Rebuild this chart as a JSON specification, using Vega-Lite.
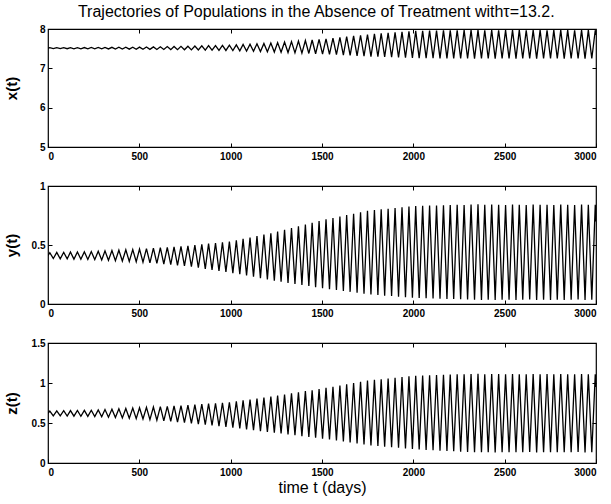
{
"$schema": "https://vega.github.io/schema/vega-lite/v6.json",
"padding": {"left": 3, "top": 4, "right": 2, "bottom": 2},
"title": {"text": "Trajectories of Populations in the Absence of Treatment withτ=13.2.", "font": "Liberation Sans", "fontSize": 16, "fontWeight": "normal", "color": "black", "offset": 3, "anchor": "middle", "dx": 16},
"spacing": 18,
"config": {
  "view": {"stroke": "black", "strokeWidth": 1.2},
  "axis": {"domain": false, "grid": false, "tickSize": -4, "tickColor": "black", "tickWidth": 1, "labelFont": "Liberation Sans", "labelFontSize": 10, "labelFontWeight": "bold", "labelColor": "black", "labelPadding": 8, "labelExpr": "datum.value", "titleFont": "Liberation Sans", "titleFontSize": 15, "titleFontWeight": "bold", "titleColor": "black"},
  "axisLeft": {"labelPadding": 7}
},
"data": {"values": [
{"t":0,"x":7.512,"y":0.41,"z":0.62},
{"t":10,"x":7.525,"y":0.435,"z":0.65},{"t":29,"x":7.5,"y":0.385,"z":0.59},
{"t":48,"x":7.526,"y":0.437,"z":0.652},{"t":67,"x":7.5,"y":0.383,"z":0.588},
{"t":86,"x":7.527,"y":0.438,"z":0.653},{"t":105,"x":7.499,"y":0.382,"z":0.587},
{"t":123,"x":7.527,"y":0.44,"z":0.655},{"t":142,"x":7.498,"y":0.38,"z":0.585},
{"t":161,"x":7.528,"y":0.441,"z":0.656},{"t":180,"x":7.497,"y":0.379,"z":0.584},
{"t":199,"x":7.529,"y":0.443,"z":0.658},{"t":218,"x":7.496,"y":0.377,"z":0.582},
{"t":237,"x":7.53,"y":0.444,"z":0.659},{"t":256,"x":7.495,"y":0.376,"z":0.581},
{"t":275,"x":7.531,"y":0.447,"z":0.663},{"t":294,"x":7.494,"y":0.373,"z":0.577},
{"t":312,"x":7.533,"y":0.45,"z":0.668},{"t":331,"x":7.493,"y":0.37,"z":0.572},
{"t":350,"x":7.534,"y":0.453,"z":0.672},{"t":369,"x":7.491,"y":0.367,"z":0.568},
{"t":388,"x":7.536,"y":0.456,"z":0.677},{"t":407,"x":7.49,"y":0.364,"z":0.563},
{"t":426,"x":7.537,"y":0.459,"z":0.681},{"t":445,"x":7.488,"y":0.361,"z":0.559},
{"t":464,"x":7.539,"y":0.462,"z":0.686},{"t":483,"x":7.486,"y":0.358,"z":0.554},
{"t":501,"x":7.54,"y":0.465,"z":0.69},{"t":520,"x":7.485,"y":0.355,"z":0.55},
{"t":539,"x":7.543,"y":0.469,"z":0.695},{"t":558,"x":7.483,"y":0.349,"z":0.542},
{"t":577,"x":7.546,"y":0.473,"z":0.699},{"t":596,"x":7.48,"y":0.344,"z":0.535},
{"t":615,"x":7.549,"y":0.477,"z":0.704},{"t":634,"x":7.478,"y":0.339,"z":0.527},
{"t":653,"x":7.552,"y":0.48,"z":0.708},{"t":672,"x":7.476,"y":0.334,"z":0.52},
{"t":690,"x":7.555,"y":0.484,"z":0.713},{"t":709,"x":7.474,"y":0.328,"z":0.512},
{"t":728,"x":7.558,"y":0.488,"z":0.717},{"t":747,"x":7.471,"y":0.323,"z":0.505},
{"t":766,"x":7.562,"y":0.492,"z":0.722},{"t":785,"x":7.469,"y":0.316,"z":0.496},
{"t":804,"x":7.567,"y":0.499,"z":0.729},{"t":823,"x":7.466,"y":0.307,"z":0.487},
{"t":842,"x":7.571,"y":0.505,"z":0.735},{"t":861,"x":7.463,"y":0.298,"z":0.478},
{"t":879,"x":7.576,"y":0.511,"z":0.741},{"t":898,"x":7.46,"y":0.289,"z":0.469},
{"t":917,"x":7.58,"y":0.517,"z":0.747},{"t":936,"x":7.457,"y":0.28,"z":0.46},
{"t":955,"x":7.585,"y":0.523,"z":0.753},{"t":974,"x":7.454,"y":0.271,"z":0.451},
{"t":993,"x":7.589,"y":0.529,"z":0.759},{"t":1012,"x":7.451,"y":0.262,"z":0.442},
{"t":1031,"x":7.597,"y":0.54,"z":0.77},{"t":1050,"x":7.445,"y":0.252,"z":0.432},
{"t":1068,"x":7.606,"y":0.552,"z":0.782},{"t":1087,"x":7.439,"y":0.241,"z":0.421},
{"t":1106,"x":7.615,"y":0.564,"z":0.794},{"t":1125,"x":7.433,"y":0.231,"z":0.411},
{"t":1144,"x":7.625,"y":0.576,"z":0.806},{"t":1163,"x":7.427,"y":0.219,"z":0.399},
{"t":1182,"x":7.634,"y":0.588,"z":0.818},{"t":1201,"x":7.421,"y":0.209,"z":0.389},
{"t":1220,"x":7.643,"y":0.6,"z":0.83},{"t":1239,"x":7.415,"y":0.198,"z":0.378},
{"t":1257,"x":7.653,"y":0.613,"z":0.843},{"t":1276,"x":7.408,"y":0.188,"z":0.368},
{"t":1295,"x":7.666,"y":0.628,"z":0.856},{"t":1314,"x":7.401,"y":0.179,"z":0.357},
{"t":1333,"x":7.68,"y":0.643,"z":0.87},{"t":1352,"x":7.394,"y":0.17,"z":0.347},
{"t":1371,"x":7.693,"y":0.658,"z":0.883},{"t":1390,"x":7.386,"y":0.161,"z":0.336},
{"t":1409,"x":7.708,"y":0.674,"z":0.898},{"t":1428,"x":7.378,"y":0.152,"z":0.325},
{"t":1446,"x":7.72,"y":0.688,"z":0.91},{"t":1465,"x":7.371,"y":0.143,"z":0.315},
{"t":1484,"x":7.735,"y":0.704,"z":0.925},{"t":1503,"x":7.363,"y":0.134,"z":0.304},
{"t":1522,"x":7.751,"y":0.717,"z":0.939},{"t":1541,"x":7.355,"y":0.126,"z":0.293},
{"t":1560,"x":7.769,"y":0.729,"z":0.954},{"t":1579,"x":7.346,"y":0.118,"z":0.281},
{"t":1598,"x":7.787,"y":0.741,"z":0.969},{"t":1617,"x":7.337,"y":0.111,"z":0.269},
{"t":1635,"x":7.805,"y":0.753,"z":0.984},{"t":1654,"x":7.328,"y":0.103,"z":0.257},
{"t":1673,"x":7.823,"y":0.765,"z":0.999},{"t":1692,"x":7.319,"y":0.096,"z":0.245},
{"t":1711,"x":7.841,"y":0.777,"z":1.014},{"t":1730,"x":7.31,"y":0.088,"z":0.233},
{"t":1749,"x":7.86,"y":0.79,"z":1.03},{"t":1768,"x":7.3,"y":0.08,"z":0.22},
{"t":1787,"x":7.874,"y":0.796,"z":1.039},{"t":1806,"x":7.294,"y":0.076,"z":0.213},
{"t":1824,"x":7.887,"y":0.802,"z":1.048},{"t":1843,"x":7.288,"y":0.071,"z":0.205},
{"t":1862,"x":7.9,"y":0.808,"z":1.057},{"t":1881,"x":7.282,"y":0.067,"z":0.198},
{"t":1900,"x":7.914,"y":0.814,"z":1.066},{"t":1919,"x":7.276,"y":0.062,"z":0.19},
{"t":1938,"x":7.928,"y":0.82,"z":1.075},{"t":1957,"x":7.27,"y":0.058,"z":0.183},
{"t":1976,"x":7.941,"y":0.826,"z":1.084},{"t":1995,"x":7.264,"y":0.053,"z":0.175},
{"t":2013,"x":7.951,"y":0.831,"z":1.091},{"t":2032,"x":7.26,"y":0.05,"z":0.168},
{"t":2051,"x":7.954,"y":0.832,"z":1.094},{"t":2070,"x":7.258,"y":0.048,"z":0.164},
{"t":2089,"x":7.957,"y":0.834,"z":1.097},{"t":2108,"x":7.256,"y":0.046,"z":0.159},
{"t":2127,"x":7.96,"y":0.835,"z":1.1},{"t":2146,"x":7.255,"y":0.045,"z":0.155},
{"t":2165,"x":7.963,"y":0.837,"z":1.103},{"t":2184,"x":7.253,"y":0.043,"z":0.15},
{"t":2202,"x":7.966,"y":0.838,"z":1.106},{"t":2221,"x":7.252,"y":0.042,"z":0.146},
{"t":2240,"x":7.969,"y":0.84,"z":1.109},{"t":2259,"x":7.25,"y":0.04,"z":0.141},
{"t":2278,"x":7.97,"y":0.838,"z":1.11},{"t":2297,"x":7.25,"y":0.038,"z":0.137},
{"t":2316,"x":7.972,"y":0.842,"z":1.112},{"t":2335,"x":7.248,"y":0.036,"z":0.135},
{"t":2354,"x":7.97,"y":0.845,"z":1.115},{"t":2373,"x":7.249,"y":0.035,"z":0.134},
{"t":2391,"x":7.968,"y":0.84,"z":1.11},{"t":2410,"x":7.25,"y":0.037,"z":0.136},
{"t":2429,"x":7.971,"y":0.843,"z":1.113},{"t":2448,"x":7.248,"y":0.034,"z":0.133},
{"t":2467,"x":7.969,"y":0.841,"z":1.111},{"t":2486,"x":7.25,"y":0.036,"z":0.135},
{"t":2505,"x":7.97,"y":0.839,"z":1.109},{"t":2524,"x":7.249,"y":0.037,"z":0.136},
{"t":2543,"x":7.972,"y":0.842,"z":1.112},{"t":2562,"x":7.248,"y":0.035,"z":0.134},
{"t":2580,"x":7.97,"y":0.84,"z":1.11},{"t":2599,"x":7.25,"y":0.036,"z":0.135},
{"t":2618,"x":7.968,"y":0.838,"z":1.108},{"t":2637,"x":7.249,"y":0.038,"z":0.137},
{"t":2656,"x":7.971,"y":0.843,"z":1.113},{"t":2675,"x":7.248,"y":0.034,"z":0.133},
{"t":2694,"x":7.97,"y":0.84,"z":1.11},{"t":2713,"x":7.25,"y":0.036,"z":0.135},
{"t":2732,"x":7.969,"y":0.841,"z":1.111},{"t":2751,"x":7.249,"y":0.035,"z":0.134},
{"t":2769,"x":7.97,"y":0.839,"z":1.109},{"t":2788,"x":7.25,"y":0.037,"z":0.136},
{"t":2807,"x":7.972,"y":0.842,"z":1.112},{"t":2826,"x":7.248,"y":0.035,"z":0.134},
{"t":2845,"x":7.97,"y":0.84,"z":1.11},{"t":2864,"x":7.25,"y":0.036,"z":0.135},
{"t":2883,"x":7.968,"y":0.838,"z":1.108},{"t":2902,"x":7.249,"y":0.038,"z":0.137},
{"t":2921,"x":7.971,"y":0.842,"z":1.112},{"t":2940,"x":7.248,"y":0.034,"z":0.133},
{"t":2958,"x":7.97,"y":0.84,"z":1.11},{"t":2977,"x":7.25,"y":0.036,"z":0.135},
{"t":2996,"x":7.969,"y":0.84,"z":1.11},{"t":3000,"x":7.85,"y":0.7,"z":0.95}
]},
"vconcat": [
{
  "width": 548, "height": 118,
  "layer": [
    {"mark": {"type": "line", "color": "black", "strokeWidth": 1.3, "clip": true},
     "encoding": {
       "x": {"field": "t", "type": "quantitative", "scale": {"domain": [0, 3000], "nice": false}, "axis": {"values": [0, 500, 1000, 1500, 2000, 2500, 3000], "title": null}},
       "y": {"field": "x", "type": "quantitative", "scale": {"domain": [5, 8], "nice": false, "zero": false}, "axis": {"values": [5, 6, 7, 8], "title": "x(t)", "titleX": -29}}}},
    {"mark": {"type": "line", "opacity": 0},
     "encoding": {
       "x": {"field": "t", "type": "quantitative", "axis": {"orient": "top", "labels": false, "values": [500, 1000, 1500, 2000, 2500], "title": null}},
       "y": {"field": "x", "type": "quantitative", "axis": {"orient": "right", "labels": false, "values": [6, 7], "title": null}}}}
  ],
  "resolve": {"axis": {"x": "independent", "y": "independent"}}
},
{
  "width": 548, "height": 118,
  "layer": [
    {"mark": {"type": "line", "color": "black", "strokeWidth": 1.3, "clip": true},
     "encoding": {
       "x": {"field": "t", "type": "quantitative", "scale": {"domain": [0, 3000], "nice": false}, "axis": {"values": [0, 500, 1000, 1500, 2000, 2500, 3000], "title": null}},
       "y": {"field": "y", "type": "quantitative", "scale": {"domain": [0, 1], "nice": false}, "axis": {"values": [0, 0.5, 1], "title": "y(t)", "titleX": -29}}}},
    {"mark": {"type": "line", "opacity": 0},
     "encoding": {
       "x": {"field": "t", "type": "quantitative", "axis": {"orient": "top", "labels": false, "values": [500, 1000, 1500, 2000, 2500], "title": null}},
       "y": {"field": "y", "type": "quantitative", "axis": {"orient": "right", "labels": false, "values": [0.5], "title": null}}}}
  ],
  "resolve": {"axis": {"x": "independent", "y": "independent"}}
},
{
  "width": 548, "height": 120,
  "layer": [
    {"mark": {"type": "line", "color": "black", "strokeWidth": 1.3, "clip": true},
     "encoding": {
       "x": {"field": "t", "type": "quantitative", "scale": {"domain": [0, 3000], "nice": false}, "axis": {"values": [0, 500, 1000, 1500, 2000, 2500, 3000], "title": "time t (days)", "titleFontWeight": "normal", "titleFontSize": 16, "titlePadding": 2}},
       "y": {"field": "z", "type": "quantitative", "scale": {"domain": [0, 1.5], "nice": false}, "axis": {"values": [0, 0.5, 1, 1.5], "title": "z(t)", "titleX": -29}}}},
    {"mark": {"type": "line", "opacity": 0},
     "encoding": {
       "x": {"field": "t", "type": "quantitative", "axis": {"orient": "top", "labels": false, "values": [500, 1000, 1500, 2000, 2500], "title": null}},
       "y": {"field": "z", "type": "quantitative", "axis": {"orient": "right", "labels": false, "values": [0.5, 1], "title": null}}}}
  ],
  "resolve": {"axis": {"x": "independent", "y": "independent"}}
}
]
}
